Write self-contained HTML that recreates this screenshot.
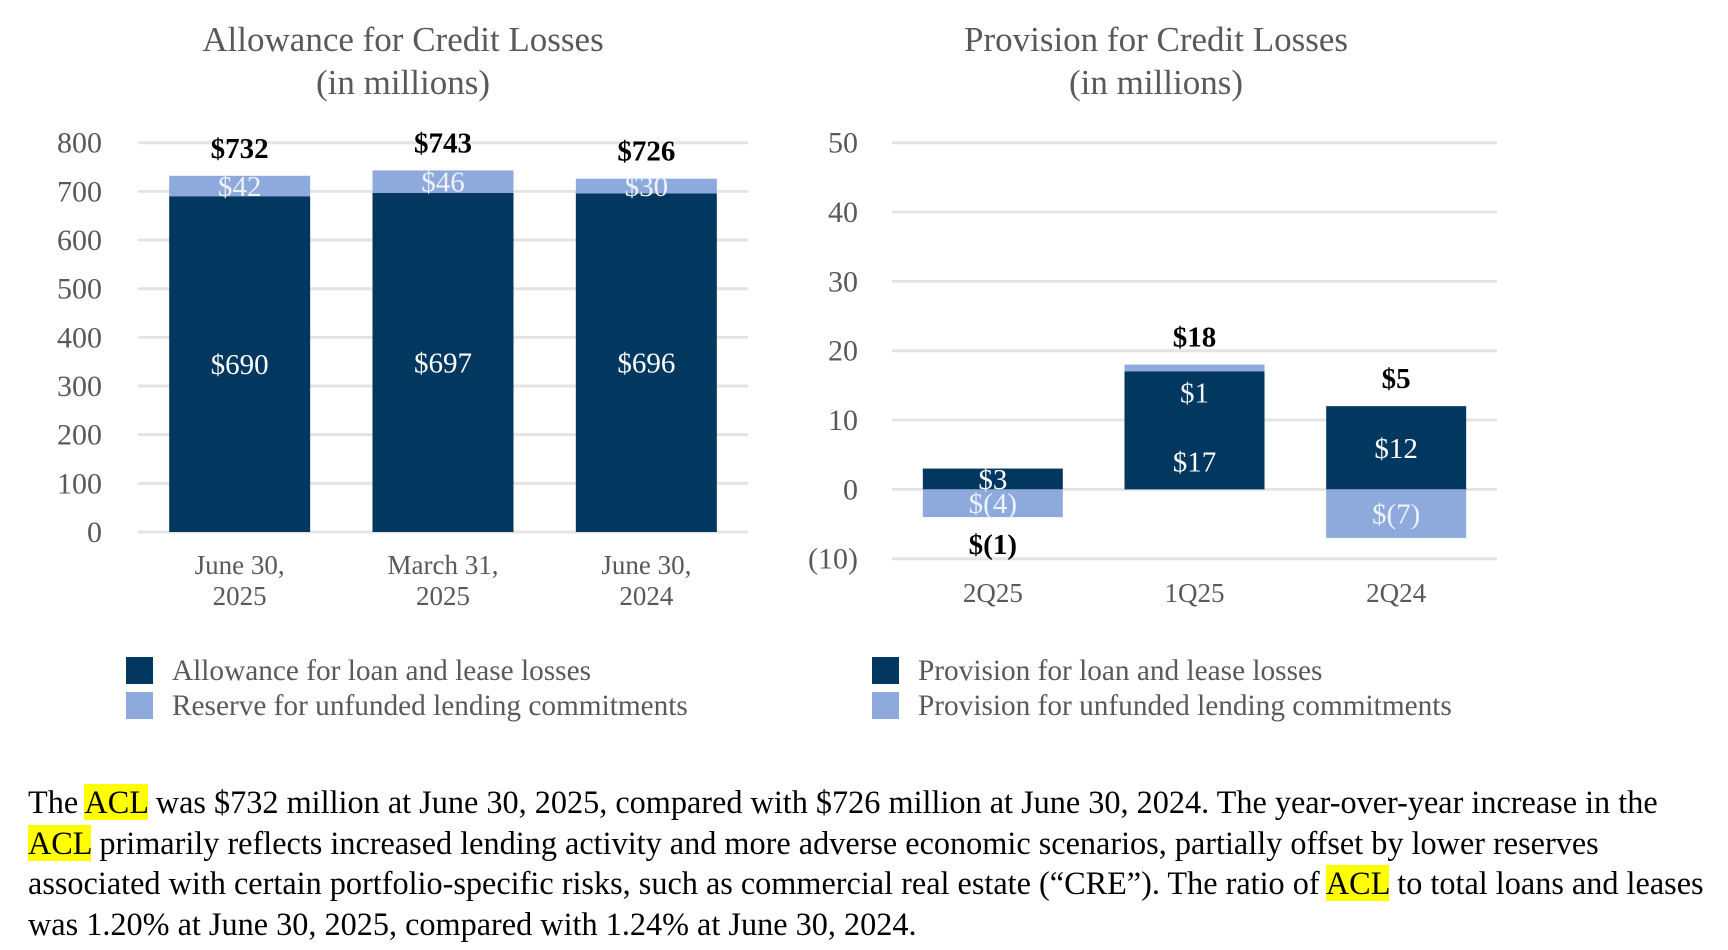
<!DOCTYPE html>
<html><head><meta charset="utf-8"><style>
body{margin:0;background:#fff;width:1728px;height:950px;overflow:hidden;font-family:"Liberation Serif",serif}
svg{position:absolute;left:0;top:0}
#para{position:absolute;left:28px;top:782px;font-size:32.25px;line-height:40.5px;color:#000;white-space:nowrap}
mark{background:#ffff00;color:#000}
</style></head><body>
<svg id="chart" width="1728" height="760" font-family="Liberation Serif, serif"></svg>
<div id="para">The <mark>ACL</mark> was $732 million at June 30, 2025, compared with $726 million at June 30, 2024. The year-over-year increase in the<br><mark>ACL</mark> primarily reflects increased lending activity and more adverse economic scenarios, partially offset by lower reserves<br>associated with certain portfolio-specific risks, such as commercial real estate (“CRE”). The ratio of <mark>ACL</mark> to total loans and leases<br>was 1.20% at June 30, 2025, compared with 1.24% at June 30, 2024.</div>
<script>
const acCats=[["June 30,","2025"],["March 31,","2025"],["June 30,","2024"]];
const acLoan=[690,697,696];
const acReserve=[42,46,30];
const acTotals=["$732","$743","$726"];
const acTicks=[0,100,200,300,400,500,600,700,800];
const pvCats=["2Q25","1Q25","2Q24"];
const pvLoan=[3,17,12];
const pvUnfunded=[-4,1,-7];
const pvTotals=["$(1)","$18","$5"];
const pvTicks=[-10,0,10,20,30,40,50];

const NS="http://www.w3.org/2000/svg";
const svg=document.getElementById('chart');
function el(tag,attrs,txt,parent){const e=document.createElementNS(NS,tag);for(const k in attrs)e.setAttribute(k,attrs[k]);if(txt!==undefined)e.textContent=txt;(parent||svg).appendChild(e);return e;}
function fmt(v){return v<0?"$("+(-v)+")":"$"+v;}
const DARK="#02375f",LIGHT="#8ea9db",GRID="#e4e4e4",GRAY="#595959";

function drawChart(cfg){
  const g=el('g',{});
  
  
  const y=v=>cfg.y0-(v-cfg.vmin)*(cfg.y0-cfg.y1)/(cfg.vmax-cfg.vmin);
  cfg.ticks.forEach(t=>{
    const l=el('line',{x1:cfg.gx0,x2:cfg.gx1,y1:y(t),y2:y(t),stroke:GRID,'stroke-width':3},undefined,g);
    
    
    const tx=el('text',{x:cfg.tickX,y:y(t)+10,'text-anchor':'end','font-size':30,fill:GRAY},t<0?"("+(-t)+")":t,g);
    
    
  });
  const n=cfg.cats.length, slot=(cfg.gx1-cfg.gx0)/n, bw=cfg.bw;
  for(let i=0;i<n;i++){
    const cx=cfg.gx0+slot*(i+0.5);
    const a=cfg.s1[i], b=cfg.s2[i];
    let pos=0,neg=0;const segs=[];
    [[a,DARK,'loan'],[b,LIGHT,'other']].forEach(([v,c,k])=>{
      let lo,hi;if(v>=0){lo=pos;hi=pos+v;pos=hi;}else{hi=neg;lo=neg+v;neg=lo;}
      segs.push({v,c,k,lo,hi});
    });
    segs.forEach(s=>{
      const r=el('rect',{x:cx-bw/2,y:y(s.hi),width:bw,height:Math.max(0,y(s.lo)-y(s.hi)),fill:s.c},undefined,g);
      
      
    });
    let ly=segs.map(s=>(y(s.lo)+y(s.hi))/2+10);
    const h1=y(segs[1].lo)-y(segs[1].hi);
    if(h1<14){
      ly[1]=y(segs[1].lo)+31; ly[0]=ly[1]+69;
    }
    segs.forEach((s,j)=>{
      const t=el('text',{x:cx,y:ly[j],'text-anchor':'middle','font-size':29,fill:j==0?'#fff':'#eef2fa'},fmt(s.v),g);
      
      
    });
    const tot=a+b;
    const ty=tot>=0?y(pos)-28+10:y(neg)+27+10;
    const tt=el('text',{x:cx,y:ty,'text-anchor':'middle','font-size':29,'font-weight':'bold',fill:'#000'},cfg.totals[i],g);
    
    
    const lines=Array.isArray(cfg.cats[i])?cfg.cats[i]:[cfg.cats[i]];
    lines.forEach((ln,k)=>{
      const c=el('text',{x:cx,y:cfg.catY+k*31,'text-anchor':'middle','font-size':27,fill:GRAY},ln,g);
      
      
    });
  }
  const t1=el('text',{x:cfg.titleX,y:51,'text-anchor':'middle','font-size':35,fill:GRAY},cfg.title,g);
  
  
  const t2=el('text',{x:cfg.titleX,y:94,'text-anchor':'middle','font-size':35,fill:GRAY},"(in millions)",g);
  
  
  cfg.legend.forEach((lab,k)=>{
    const r=el('rect',{x:cfg.legX,y:657+k*35,width:27,height:27,fill:k==0?DARK:LIGHT},undefined,g);
    
    
    const t=el('text',{x:cfg.legX+46,y:680+k*35,'font-size':29.3,fill:GRAY},lab,g);
    
    
  });
}
drawChart({name:'allowance-chart',cats:acCats,s1:acLoan,s2:acReserve,totals:acTotals,ticks:acTicks,
  vmin:0,vmax:800,y0:532,y1:142.7,gx0:138,gx1:748,bw:141,tickX:102,catY:574,titleX:403,
  title:"Allowance for Credit Losses",legX:126,
  legend:["Allowance for loan and lease losses","Reserve for unfunded lending commitments"]});
drawChart({name:'provision-chart',cats:pvCats,s1:pvLoan,s2:pvUnfunded,totals:pvTotals,ticks:pvTicks,
  vmin:-10,vmax:50,y0:558.7,y1:142.7,gx0:892,gx1:1497,bw:140,tickX:858,catY:602,titleX:1156,
  title:"Provision for Credit Losses",legX:872,
  legend:["Provision for loan and lease losses","Provision for unfunded lending commitments"]});
</script>
</body></html>
